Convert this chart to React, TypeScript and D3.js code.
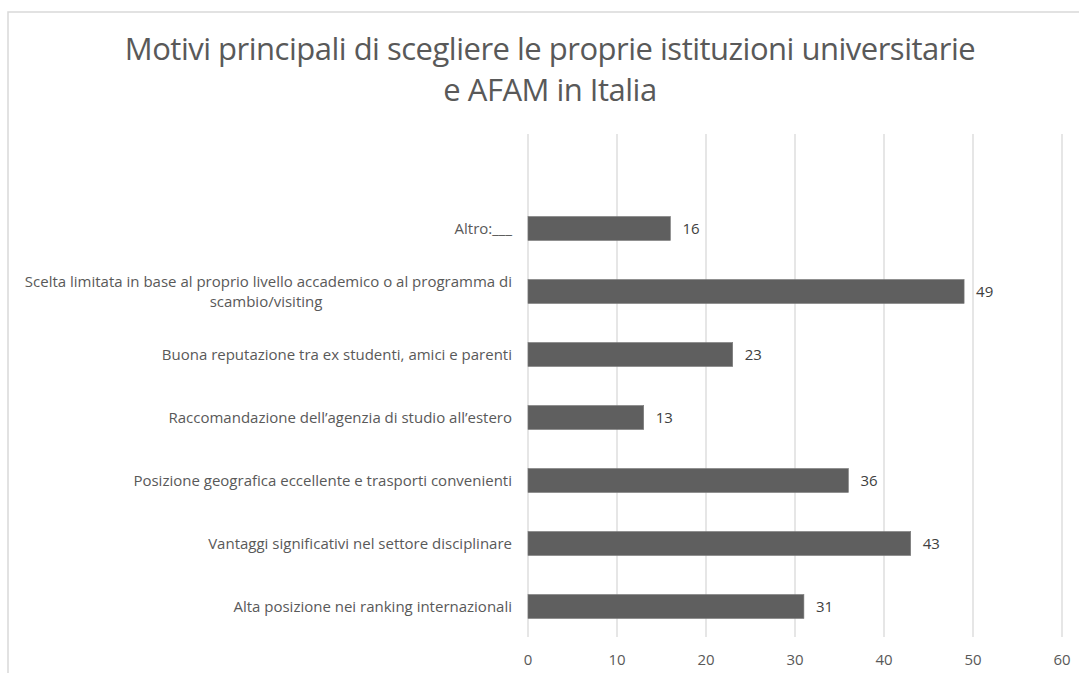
import React from "react";
import * as d3 from "d3";

const titleLines = ["Motivi principali di scegliere le proprie istituzioni universitarie", "e AFAM in Italia"];

// bottom to top; the last (blank) slot is the empty top band of the plot area
const categories = [
  "Alta posizione nei ranking internazionali",
  "Vantaggi significativi nel settore disciplinare",
  "Posizione geografica eccellente e trasporti convenienti",
  "Raccomandazione dell\u2019agenzia di studio all\u2019estero",
  "Buona reputazione tra ex studenti, amici e parenti",
  "Scelta limitata in base al proprio livello accademico o al programma di|scambio/visiting",
  "Altro:___",
  "",
];
const values: (number | null)[] = [31, 43, 36, 13, 23, 49, 16, null];
const xTicks = [0, 10, 20, 30, 40, 50, 60];

const W = 1079;
const H = 673;
const FONT = "'Open Sans', 'Noto Sans', sans-serif";
const TXT = "#595959";

export default function App() {
  const x = d3.scaleLinear().domain([0, 60]).range([528, 1062]);
  const y = d3
    .scaleBand<string>()
    .domain(categories.map((c, i) => String(i)).reverse())
    .range([134, 638])
    .paddingInner(0.62)
    .paddingOuter(0.31);

  return (
    <div style={{ position: "absolute", left: 0, top: 0 }}>
      <svg width={W} height={H} style={{ display: "block", background: "#fff" }}>
        <rect x={8} y={12} width={W + 10} height={H + 10} fill="#fff" stroke="#d9d9d9" strokeWidth={1.5} />
        {titleLines.map((t, i) => (
          <text
            key={i}
            x={550}
            y={60 + i * 41}
            textAnchor="middle"
            fontFamily={FONT}
            fontSize={31}
            fill={TXT}
            letterSpacing={-0.5}
          >
            {t}
          </text>
        ))}
        {xTicks.map((t) => (
          <g key={t}>
            <line x1={x(t)} x2={x(t)} y1={134} y2={637} stroke="#d9d9d9" strokeWidth={1.3} />
            <text x={x(t)} y={665} textAnchor="middle" fontFamily={FONT} fontSize={15} fill={TXT}>
              {t}
            </text>
          </g>
        ))}
        {categories.map((c, i) => {
          const v = values[i];
          const yy = y(String(i))!;
          const bw = y.bandwidth();
          const cy = yy + bw / 2;
          const lines = c ? c.split("|") : [];
          return (
            <g key={i}>
              {v !== null && (
                <>
                  <rect
                    x={x(0)}
                    y={yy}
                    width={x(v) - x(0)}
                    height={bw}
                    fill="#5f5f5f"
                    stroke="#7a7a7a"
                    strokeWidth={0.6}
                  />
                  <text x={x(v) + 12} y={cy + 5} fontFamily={FONT} fontSize={15} fill="#404040">
                    {v}
                  </text>
                </>
              )}
              {lines.length === 1 && (
                <text x={512} y={cy + 5} textAnchor="end" fontFamily={FONT} fontSize={15} fill={TXT}>
                  {lines[0]}
                </text>
              )}
              {lines.length === 2 && (
                <g>
                  <text x={512} y={cy - 5} textAnchor="end" fontFamily={FONT} fontSize={15} fill={TXT}>
                    {lines[0]}
                  </text>
                  <text x={266} y={cy + 15} textAnchor="middle" fontFamily={FONT} fontSize={15} fill={TXT}>
                    {lines[1]}
                  </text>
                </g>
              )}
            </g>
          );
        })}
      </svg>
    </div>
  );
}
